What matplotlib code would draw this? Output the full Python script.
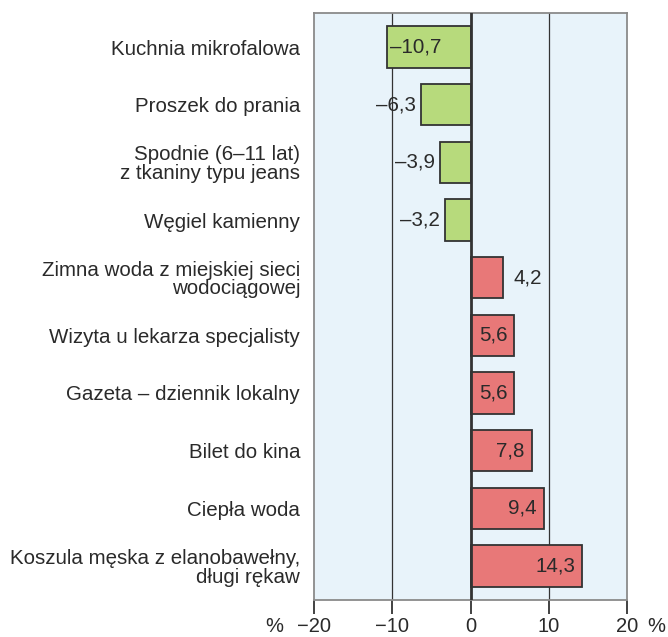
import matplotlib
matplotlib.use("Agg")
import matplotlib.pyplot as plt

plt.rcParams['font.family'] = ['Liberation Sans', 'DejaVu Sans']

categories = [
    "Kuchnia mikrofalowa",
    "Proszek do prania",
    "Spodnie (6–11 lat)\nz tkaniny typu jeans",
    "Węgiel kamienny",
    "Zimna woda z miejskiej sieci\nwodociągowej",
    "Wizyta u lekarza specjalisty",
    "Gazeta – dziennik lokalny",
    "Bilet do kina",
    "Ciepła woda",
    "Koszula męska z elanobawełny,\ndługi rękaw",
]
values = [-10.7, -6.3, -3.9, -3.2, 4.2, 5.6, 5.6, 7.8, 9.4, 14.3]
xticks = [-20, -10, 0, 10, 20]
xticklabels = ["\u221220", "\u221210", "0", "10", "20"]

GREEN = "#b7da7c"
RED = "#e87878"
BG = "#e8f3fa"
EDGE = "#333333"
TXT = "#2a2a2a"

fig = plt.figure(figsize=(6.68, 6.37), dpi=100)
ax = fig.add_axes([314/668, 1-600/637, 313/668, 587/637])
ax.set_facecolor(BG)

ypos = list(range(len(values)))
colors = [GREEN if v < 0 else RED for v in values]
ax.barh(ypos, values, height=0.72, color=colors, edgecolor=EDGE, linewidth=1.3, zorder=3)

ax.set_xlim(-20, 20)
ax.set_ylim(len(values) - 0.41, -0.59)

for x in (-10, 10):
    ax.axvline(x, color=EDGE, lw=0.9, zorder=1)
ax.axvline(0, color=EDGE, lw=2.0, zorder=4)

fs = 14.8
for y, v in zip(ypos, values):
    s = f"{v:.1f}".replace(".", ",").replace("-", "\u2013")
    if v < 0:
        if abs(v) >= 8:
            ax.text(v + 0.4, y, s, ha="left", va="center", fontsize=fs, color=TXT, zorder=5)
        else:
            ax.text(v - 0.7, y, s, ha="right", va="center", fontsize=fs, color=TXT, zorder=5)
    else:
        if v < 5:
            ax.text(v + 1.3, y, s, ha="left", va="center", fontsize=fs, color=TXT, zorder=5)
        else:
            ax.text(v - 0.9, y, s, ha="right", va="center", fontsize=fs, color=TXT, zorder=5)

ax.set_yticks(ypos)
ax.set_yticklabels(categories, fontsize=fs, color=TXT, linespacing=0.97)
ax.tick_params(axis="y", length=0, pad=10)

ax.set_xticks(xticks)
ax.set_xticklabels(xticklabels, fontsize=14.5, color=TXT)
ax.tick_params(axis="x", direction="out", length=10, width=1.3, color=EDGE, pad=2)

for side in ("left", "right", "top", "bottom"):
    ax.spines[side].set_color("#8a8a8a")
    ax.spines[side].set_linewidth(1.3)

fig.text(274/668, 1-627/637, "%", ha="center", va="center", fontsize=14.5, color=TXT)
fig.text(656/668, 1-627/637, "%", ha="center", va="center", fontsize=14.5, color=TXT)

fig.savefig("out.png", dpi=100)
